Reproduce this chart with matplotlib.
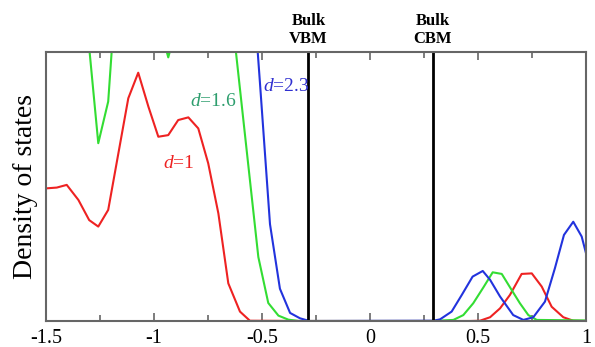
import matplotlib
matplotlib.use("Agg")
import matplotlib.pyplot as plt
from matplotlib.ticker import MultipleLocator, FixedLocator, FixedFormatter

plt.rcParams['font.family'] = ['Liberation Serif', 'DejaVu Serif']
plt.rcParams['axes.unicode_minus'] = False
plt.rcParams['mathtext.fontset'] = 'custom'
plt.rcParams['mathtext.it'] = 'Liberation Serif:italic'
plt.rcParams['mathtext.rm'] = 'Liberation Serif'

# DOS curves (energy in eV, DOS in fraction of axis height)
red_x = [-1.5, -1.450, -1.404, -1.350, -1.300, -1.258, -1.212, -1.165, -1.119, -1.073,
         -1.026, -0.980, -0.934, -0.888, -0.841, -0.795, -0.749, -0.702, -0.656, -0.602,
         -0.556, -0.28, 0.29, 0.463, 0.509, 0.556, 0.602, 0.648, 0.702, 0.749,
         0.795, 0.841, 0.895, 0.941, 1.0]
red_y = [0.493, 0.496, 0.506, 0.450, 0.375, 0.351, 0.413, 0.623, 0.828, 0.923,
         0.797, 0.685, 0.691, 0.747, 0.757, 0.716, 0.586, 0.400, 0.140, 0.035,
         0.001, 0.0, 0.0, 0.0, 0.001, 0.014, 0.047, 0.097, 0.175, 0.177,
         0.128, 0.053, 0.014, 0.001, 0.0]

green_x = [-1.5, -1.304, -1.258, -1.212, -1.165, -0.980, -0.934, -0.888, -0.656, -0.609,
           -0.563, -0.517, -0.471, -0.424, -0.378, -0.33, 0.29, 0.386, 0.432, 0.478,
           0.525, 0.568, 0.610, 0.656, 0.694, 0.733, 0.772, 1.0]
green_y = [1.4, 1.05, 0.661, 0.816, 1.36, 1.12, 0.98, 1.12, 1.26, 0.914,
           0.576, 0.238, 0.067, 0.02, 0.005, 0.0, 0.0, 0.004, 0.022, 0.066,
           0.125, 0.181, 0.175, 0.115, 0.066, 0.022, 0.004, 0.002]

blue_x = [-1.5, -0.556, -0.509, -0.463, -0.417, -0.370, -0.324, -0.28, 0.293, 0.324,
          0.378, 0.425, 0.475, 0.522, 0.556, 0.602, 0.663, 0.710, 0.756, 0.810,
          0.856, 0.898, 0.941, 0.980, 1.0]
blue_y = [1.5, 1.4, 0.88, 0.36, 0.12, 0.03, 0.01, 0.0, 0.001, 0.006,
          0.035, 0.097, 0.165, 0.186, 0.153, 0.091, 0.022, 0.004, 0.014, 0.072,
          0.196, 0.320, 0.369, 0.314, 0.252]

vbm = -0.285
cbm = 0.29
tick_vals = [-1.5, -1, -0.5, 0, 0.5, 1]
tick_labels = ['-1.5', '-1', '-0.5', '0', '0.5', '1']

fig = plt.figure(figsize=(5.95, 3.47), dpi=100)
ax = fig.add_axes([46/595, 1 - 321/347, 540/595, 269/347])

ax.plot(red_x, red_y, color='#ee2222', lw=1.5)
ax.plot(green_x, green_y, color='#33dd33', lw=1.5)
ax.plot(blue_x, blue_y, color='#2233dd', lw=1.5)

ax.axvline(vbm, color='black', lw=2)
ax.axvline(cbm, color='black', lw=2)

ax.set_xlim(-1.5, 1.0)
ax.set_ylim(0, 1)

# curve labels
ax.text(-0.958, 0.587, r'$d$=1', color='#ee2222', fontsize=14, va='center', ha='left')
ax.text(-0.833, 0.815, r'$d$=1.6', color='#2e9e6e', fontsize=14, va='center', ha='left')
ax.text(-0.497, 0.871, r'$d$=2.3', color='#3030d0', fontsize=14, va='center', ha='left')

# bulk band edge labels above the axes
tr = ax.get_xaxis_transform()
ax.text(vbm, 1.018, 'Bulk\nVBM', transform=tr, ha='center', va='bottom',
        fontsize=12, fontweight='bold', linespacing=1.15)
ax.text(cbm, 1.018, 'Bulk\nCBM', transform=tr, ha='center', va='bottom',
        fontsize=12, fontweight='bold', linespacing=1.15)

ax.xaxis.set_major_locator(FixedLocator(tick_vals))
ax.xaxis.set_major_formatter(FixedFormatter(tick_labels))
ax.xaxis.set_minor_locator(MultipleLocator(0.25))
ax.set_yticks([])
ax.tick_params(axis='x', which='both', direction='in', top=True, bottom=True,
               color='#666666', width=1.2, labelsize=14.5, pad=6)
ax.tick_params(axis='x', which='major', length=6)
ax.tick_params(axis='x', which='minor', length=4)
for s in ax.spines.values():
    s.set_color('#666666')
    s.set_linewidth(1.5)

ax.set_ylabel('Density of states', fontsize=20, labelpad=6)

fig.savefig('out.png', dpi=100)
